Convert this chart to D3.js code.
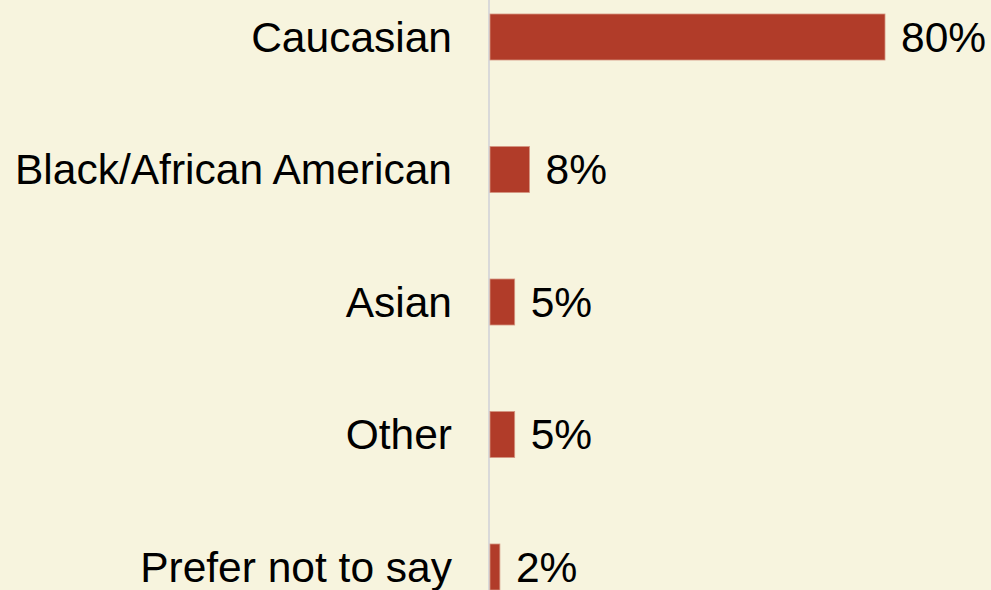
<!DOCTYPE html>
<html><head><meta charset="utf-8">
<script src="https://cdn.jsdelivr.net/npm/d3@7"></script>
<style>html,body{margin:0;padding:0;background:#f7f4de;overflow:hidden}</style>
</head><body>
<svg id="c" width="991" height="590"></svg>
<script>
const categories = ["Caucasian","Black/African American","Asian","Other","Prefer not to say"];
const values = [80, 8, 5, 5, 2];
const valueLabels = ["80%","8%","5%","5%","2%"];

const svg = d3.select("#c");
svg.append("rect").attr("width",991).attr("height",590).attr("fill","#f7f4de");

const x = d3.scaleLinear().domain([0,80]).range([490,885]);
const y = d3.scaleBand().domain(categories).range([14,590]).paddingInner(0.6528).paddingOuter(0);

svg.append("line").attr("x1",489).attr("x2",489).attr("y1",0).attr("y2",590)
  .attr("stroke","#d9d9d9").attr("stroke-width",2);

svg.selectAll("rect.bar").data(categories).enter().append("rect")
  .attr("class","bar")
  .attr("x", x(0))
  .attr("y", d=>y(d))
  .attr("width", (d,i)=>x(values[i])-x(0))
  .attr("height", y.bandwidth())
  .attr("fill","#b13c29")
  .attr("stroke","#d49580").attr("stroke-width",0.8);

const font = "'Liberation Sans', Arial, Helvetica, sans-serif";

svg.selectAll("text.cat").data(categories).enter().append("text")
  .attr("class","cat")
  .attr("x",452)
  .attr("y", d=>y(d)+y.bandwidth()/2)
  .attr("dy","0.35em")
  .attr("text-anchor","end")
  .attr("font-family",font)
  .attr("font-size",42.5)
  .attr("fill","#000")
  .text(d=>d);

svg.selectAll("text.val").data(categories).enter().append("text")
  .attr("class","val")
  .attr("x",(d,i)=>x(values[i])+16)
  .attr("y", d=>y(d)+y.bandwidth()/2)
  .attr("dy","0.35em")
  .attr("font-family",font)
  .attr("font-size",42.5)
  .attr("fill","#000")
  .text((d,i)=>valueLabels[i]);
</script>
</body></html>
